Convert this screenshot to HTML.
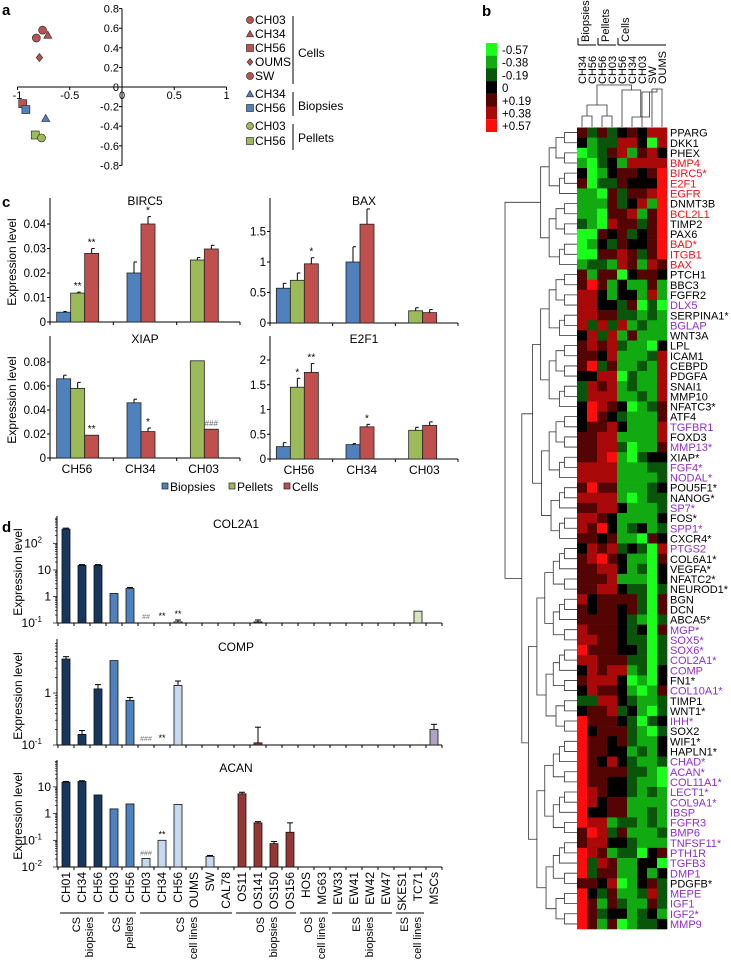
<!DOCTYPE html>
<html><head><meta charset="utf-8"><style>
html,body{margin:0;padding:0;background:#fff;}
svg{display:block;font-family:"Liberation Sans",Arial,sans-serif;}
</style></head><body>
<svg id="fig" width="731" height="960" viewBox="0 0 731 960" xmlns="http://www.w3.org/2000/svg"></svg>
<script>
// ---------- Panel a data ----------
const pcaLabels=["CH03","SW","CH34","OUMS","CH56","CH56","CH34","CH56","CH03"];
const pcaGroups=["cells","cells","cells","cells","cells","biopsies","biopsies","pellets","pellets"];
const pcaShapes=["circle","hex","tri","diamond","square","square","tri","square","circle"];
const pcaX=[-0.82,-0.76,-0.71,-0.79,-0.95,-0.92,-0.73,-0.83,-0.77];
const pcaY=[0.50,0.58,0.53,0.30,-0.17,-0.23,-0.32,-0.49,-0.52];
const pcaTicksX=[-1,-0.5,0,0.5,1];
const pcaTicksY=[0.8,0.6,0.4,0.2,0,-0.2,-0.4,-0.6,-0.8];

// ---------- Panel c data ----------
const cCategories=["CH56","CH34","CH03"];
const birc5Bio=[0.004,0.020,null], birc5Pel=[0.0118,null,0.0253], birc5Cell=[0.028,0.040,0.0298];
const birc5BioErr=[0.0003,0.0045,0], birc5PelErr=[0.0004,0,0.001], birc5CellErr=[0.002,0.003,0.0015];
const birc5Marks=[["","**","**"],["","","*"],["","",""]];
const baxBio=[0.57,1.0,null], baxPel=[0.70,null,0.20], baxCell=[0.97,1.62,0.17];
const baxBioErr=[0.08,0.25,0], baxPelErr=[0.12,0,0.05], baxCellErr=[0.1,0.25,0.05];
const baxMarks=[["","","*"],["","",""],["","",""]];
const xiapBio=[0.066,0.046,null], xiapPel=[0.058,null,0.081], xiapCell=[0.019,0.022,0.024];
const xiapBioErr=[0.003,0.003,0], xiapPelErr=[0.005,0,0], xiapCellErr=[0,0.003,0];
const xiapMarks=[["","","**"],["","","*"],["","","###"]];
const e2f1Bio=[0.25,0.29,null], e2f1Pel=[1.45,null,0.58], e2f1Cell=[1.75,0.65,0.68];
const e2f1BioErr=[0.08,0.02,0], e2f1PelErr=[0.18,0,0.06], e2f1CellErr=[0.18,0.05,0.07];
const e2f1Marks=[["","*","**"],["","","*"],["","",""]];
const birc5Ticks=[0,0.01,0.02,0.03,0.04], birc5TickLabels=["0","0.01","0.02","0.03","0.04"];
const baxTicks=[0,0.5,1,1.5], baxTickLabels=["0","0.5","1","1.5"];
const xiapTicks=[0,0.02,0.04,0.06,0.08], xiapTickLabels=["0","0.02","0.04","0.06","0.08"];
const e2f1Ticks=[0,0.5,1,1.5,2], e2f1TickLabels=["0","0.5","1","1.5","2"];

// ---------- Panel d data ----------
const dCategories=["CH01","CH34","CH56","CH03","CH56","CH03","CH34","CH56","OUMS","SW","CAL78","OS11","OS141","OS150","OS156","HOS","MG63","EW33","EW41","EW42","EW47","SKES1","TC71","MSCs"];
const dGroupNames=[["CS","biopsies"],["CS","pellets"],["CS","cell lines"],["OS","biopsies"],["OS","cell lines"],["ES","biopsies"],["ES","cell lines"]];
const dGroupStart=[0,3,5,11,15,17,21];
const dGroupEnd=[2,4,10,14,16,20,22];
const dColorKeys=["csb","csb","csb","csp","csp","csc","csc","csc","csc","csc","csc","osb","osb","osb","osb","osc","osc","esb","esb","esb","esb","esc","esc","msc"];
const col2a1Values=[350,15,15,1.3,2.0,null,null,0.11,null,null,null,null,0.11,null,null,null,null,null,null,null,null,null,0.28,null];
const col2a1Err=[30,1,1,0,0.2,0,0,0.02,0,0,0,0,0.02,0,0,0,0,0,0,0,0,0,0,0];
const col2a1Marks=["","","","","","##","**","**","","","","","","","","","","","","","","","",""];
const compValues=[4.5,0.16,1.2,4.2,0.72,null,null,1.4,null,null,null,null,0.11,null,null,null,null,null,null,null,null,null,null,0.2];
const compErr=[0.5,0.03,0.25,0,0.1,0,0,0.3,0,0,0,0,0.11,0,0,0,0,0,0,0,0,0,0,0.05];
const compMarks=["","","","","","###","**","","","","","","","","","","","","","","","","",""];
const acanValues=[15,16,5,1.5,2.3,0.021,0.1,2.2,null,0.025,null,5.5,0.45,0.075,0.2,null,null,null,null,null,null,null,null,null];
const acanErr=[1,1,0,0,0,0,0,0,0,0.002,0,0.8,0.05,0.015,0.25,0,0,0,0,0,0,0,0,0];
const acanMarks=["","","","","","###","**","","","","","","","","","","","","","","","","",""];

// ---------- Panel b data ----------
const hmColumns=["CH34","CH56","CH56","CH03","CH56","CH34","CH03","SW","OUMS"];
const hmGenes=["PPARG","DKK1","PHEX","BMP4","BIRC5*","E2F1","EGFR","DNMT3B","BCL2L1","TIMP2","PAX6","BAD*","ITGB1","BAX","PTCH1","BBC3","FGFR2","DLX5","SERPINA1*","BGLAP","WNT3A","LPL","ICAM1","CEBPD","PDGFA","SNAI1","MMP10","NFATC3*","ATF4","TGFBR1","FOXD3","MMP13*","XIAP*","FGF4*","NODAL*","POU5F1*","NANOG*","SP7*","FOS*","SPP1*","CXCR4*","PTGS2","COL6A1*","VEGFA*","NFATC2*","NEUROD1*","BGN","DCN","ABCA5*","MGP*","SOX5*","SOX6*","COL2A1*","COMP","FN1*","COL10A1*","TIMP1","WNT1*","IHH*","SOX2","WIF1*","HAPLN1*","CHAD*","ACAN*","COL11A1*","LECT1*","COL9A1*","IBSP","FGFR3","BMP6","TNFSF11*","PTH1R","TGFB3","DMP1","PDGFB*","MEPE","IGF1","IGF2*","MMP9"];
const hmGeneClass="kkkrrrrkrkkrrr"+"kkkpkpkkkkkkkkkpkp"+"kppkkpkpkpkkkkkkkpppppkp"+"kkpkkkp"+"ppppppppppp"+"kpppp";
// values coded 0..6 => -3..+3 (green..red)
const hmValues=["424234355","312255305","012451453","102315555","301344346","402243336","110424456","111423516","110445146","210544246","004342346","013243346","004454246","122154154","414403443","464131141","553133151","553324020","554422121","525251211","352514111","454521103","443511125","462411215","335502115","254512115","255511215","365430124","364321114","344531115","445511115","445520114","445610233","555511122","555511112","464411123","555510122","445531112","554311113","546312312","443411043","354523205","456431104","445531203","444511103","445532202","534444204","434434204","444432102","544432304","554432202","644433202","554442202","354551203","455530103","354431014","225532112","344523102","644432023","634442102","644342113","644331213","643532112","644442210","644332110","654332121","653441111","633441121","655122121","465241112","455332111","654122034","625411330","624411313","443501342","632411252","641421142","642331231","641401223"];

// ---------- helpers ----------
const NS="http://www.w3.org/2000/svg";
const svg=document.getElementById("fig");
function mk(tag,attrs,parent){const e=document.createElementNS(NS,tag);for(const k in attrs)e.setAttribute(k,attrs[k]);(parent||svg).appendChild(e);return e;}
function txt(s,x,y,size,anchor,parent,extra){const t=mk("text",Object.assign({x:x,y:y,"font-size":size,"text-anchor":anchor||"start",fill:"#000"},extra||{}),parent);t.textContent=s;return t;}
function line(x1,y1,x2,y2,parent,w,c){return mk("line",{x1:x1,y1:y1,x2:x2,y2:y2,stroke:c||"#000","stroke-width":w||1},parent);}

let L;
L=txt("a",2,15,15,"start",svg,{"font-weight":"bold"});


L=txt("b",482,16,15,"start",svg,{"font-weight":"bold"});


L=txt("c",2,207,15,"start",svg,{"font-weight":"bold"});


L=txt("d",2,532,15,"start",svg,{"font-weight":"bold"});



// ================= Panel a: PCA =================
const gA=mk("g",{});


const axX=v=>122+v*104.5, axY=v=>87-v*98;
line(axX(-1),axY(0),axX(1),axY(0),gA);
line(axX(0),axY(0.8),axX(0),axY(-0.8),gA);
pcaTicksX.forEach(v=>{line(axX(v),axY(0),axX(v),axY(0)+3,gA);const t=txt(String(v),axX(v),axY(0)+12,11,"middle",gA);});
pcaTicksY.forEach(v=>{line(axX(0)-3,axY(v),axX(0),axY(v),gA);const t=txt(String(v),axX(0)-3,axY(v)+4,11,"end",gA);});
const grpFill={cells:"#c0504d",biopsies:"#4f81bd",pellets:"#9bbb59"};
function shape(kind,cx,cy,fill,parent,s){s=s||4;let e;
 if(kind==="circle"||kind==="hex")e=mk("circle",{cx:cx,cy:cy,r:s,fill:fill,stroke:"#333","stroke-width":0.7},parent);
 else if(kind==="square")e=mk("rect",{x:cx-s,y:cy-s,width:2*s,height:2*s,fill:fill,stroke:"#333","stroke-width":0.7},parent);
 else if(kind==="tri")e=mk("polygon",{points:`${cx},${cy-s} ${cx+s},${cy+s*0.8} ${cx-s},${cy+s*0.8}`,fill:fill,stroke:"#333","stroke-width":0.7},parent);
 else e=mk("polygon",{points:`${cx},${cy-s} ${cx+s*0.8},${cy} ${cx},${cy+s} ${cx-s*0.8},${cy}`,fill:fill,stroke:"#333","stroke-width":0.7},parent);
 return e;}
pcaX.forEach((v,i)=>{const p=shape(pcaShapes[i],axX(v),axY(pcaY[i]),grpFill[pcaGroups[i]],gA);
 
 });
const gAL=mk("g",{});


const legA=[["circle","cells","CH03",24],["tri","cells","CH34",38],["square","cells","CH56",52],["diamond","cells","OUMS",66],["hex","cells","SW",80],["tri","biopsies","CH34",98],["square","biopsies","CH56",112],["circle","pellets","CH03",130],["square","pellets","CH56",145]];
legA.forEach(r=>{shape(r[0],250,r[3]-4,grpFill[r[1]],gAL,3.5);const t=txt(r[2],255,r[3],12,"start",gAL);});
line(293,16,293,84,gAL);line(293,92,293,116,gAL);line(293,124,293,150,gAL);
txt("Cells",298,57,12,"start",gAL);txt("Biopsies",298,110,12,"start",gAL);txt("Pellets",298,142,12,"start",gAL);

// ================= Panel c: bar charts =================
const cColors=["#4f81bd","#9bbb59","#c0504d"];
function barChart(name,title,cfg,series,errs,marks,ticks,tickLabels){
 const g=mk("g",{});
 
 
 const yv=v=>cfg.base-v*cfg.ppu;
 line(cfg.x0,cfg.top,cfg.x0,cfg.base,g);line(cfg.x0,cfg.base,cfg.x1,cfg.base,g);
 ticks.forEach((v,i)=>{line(cfg.x0-3,yv(v),cfg.x0,yv(v),g);const t=txt(tickLabels[i],cfg.x0-4,yv(v)+4,11.5,"end",g);});
 const gw=(cfg.x1-cfg.x0)/3;
 for(let k=0;k<=3;k++)line(cfg.x0+gw*k,cfg.base,cfg.x0+gw*k,cfg.base+3,g);
 const tt=txt(title,cfg.x0+gw*1.5,cfg.top+7,12,"middle",g);
 
 
 for(let c=0;c<3;c++){
  const present=[0,1,2].filter(s=>series[s][c]!==null);
  const bw=14, start=cfg.x0+gw*c+gw/2-present.length*bw/2-4;
  present.forEach((s,j)=>{const v=series[s][c],x=start+j*bw;
   const r=mk("rect",{x:x,y:yv(v),width:bw,height:cfg.base-yv(v),fill:cColors[s],stroke:"#222","stroke-width":0.8},g);
   
   
   const e=errs[s][c];if(e>0){line(x+bw/2,yv(v),x+bw/2,yv(v+e),g,1);line(x+bw/2,yv(v+e),x+bw/2+3,yv(v+e),g,1);}
   const m=marks[c][s];if(m){const mt=txt(m,x+bw/2,yv(v+e)-3,m.startsWith("#")?8:10,"middle",g,m.startsWith("#")?{fill:"#666"}:{});}
  });
 }
 return g;}
barChart("birc5-chart","BIRC5",{x0:50,x1:240,base:322,ppu:2450,top:198},[birc5Bio,birc5Pel,birc5Cell],[birc5BioErr,birc5PelErr,birc5CellErr],birc5Marks,birc5Ticks,birc5TickLabels);
barChart("bax-chart","BAX",{x0:270,x1:458,base:323,ppu:61,top:198},[baxBio,baxPel,baxCell],[baxBioErr,baxPelErr,baxCellErr],baxMarks,baxTicks,baxTickLabels);
barChart("xiap-chart","XIAP",{x0:50,x1:240,base:458,ppu:1200,top:336},[xiapBio,xiapPel,xiapCell],[xiapBioErr,xiapPelErr,xiapCellErr],xiapMarks,xiapTicks,xiapTickLabels);
barChart("e2f1-chart","E2F1",{x0:270,x1:458,base:459,ppu:49.5,top:336},[e2f1Bio,e2f1Pel,e2f1Cell],[e2f1BioErr,e2f1PelErr,e2f1CellErr],e2f1Marks,e2f1Ticks,e2f1TickLabels);
cCategories.forEach((c,i)=>{let t=txt(c,50+63.3*i+27,473,12,"middle");
 t=txt(c,270+62.7*i+29,474,12,"middle");});
const yl1=txt("Expression level",0,0,12,"middle",svg,{transform:"translate(16,262) rotate(-90)"});


const yl2=txt("Expression level",0,0,12,"middle",svg,{transform:"translate(16,400) rotate(-90)"});


const gCL=mk("g",{});


[["Biopsies",162],["Pellets",229],["Cells",284]].forEach((e,i)=>{mk("rect",{x:e[1],y:483,width:6,height:6,fill:cColors[i],stroke:"#222","stroke-width":0.7},gCL);const t=txt(e[0],e[1]+8,491,12,"start",gCL);});

// ================= Panel d: log bar charts =================
const dFill={csb:"#17375e",csp:"#4f81bd",csc:"#c6d9f1",osb:"#953735",osc:"#d99694",esb:"#c3d69b",esc:"#d7e4bd",msc:"#b3a2c7"};
const dX0=58, dStep=16;
function logChart(name,title,cfg,values,errs,marks,tickExps){
 const g=mk("g",{});
 
 
 const yv=v=>cfg.base-(Math.log10(v)-cfg.minExp)*cfg.ppd;
 line(dX0-1,cfg.top,dX0-1,cfg.base,g);line(dX0-1,cfg.base,dX0+dStep*24,cfg.base,g);
 for(let i=0;i<=24;i++)line(dX0+dStep*i,cfg.base,dX0+dStep*i,cfg.base+3,g);
 for(let e=cfg.minExp;e<cfg.maxExp;e++)for(let m=1;m<10;m++){const y=yv(m*Math.pow(10,e));if(y>=cfg.top)line(dX0-(m===1?5:3),y,dX0-1,y,g,0.7);}
 tickExps.forEach(e=>{const y=yv(Math.pow(10,e));let t;
  if(e===0)t=txt("1",dX0-7,y+4,12,"end",g);else if(e===1)t=txt("10",dX0-7,y+4,12,"end",g);
  else{t=txt("",dX0-16,y+4,12,"end",g);const a=mk("tspan",{},t);a.textContent="10";const s=mk("tspan",{"font-size":8,dy:-5},t);s.textContent=String(e);}
  });
 const tt=txt(title,236,cfg.top+12,12,"middle",g);
 
 
 values.forEach((v,i)=>{const x=dX0+dStep*i+4;
  if(v!==null){const r=mk("rect",{x:x,y:yv(v),width:8,height:cfg.base-yv(v),fill:dFill[dColorKeys[i]],stroke:"#111","stroke-width":0.8},g);
   
   
   if(errs[i]>0){const ye=yv(v+errs[i]);line(x+4,yv(v),x+4,ye,g);line(x+1,ye,x+7,ye,g);}}
  if(marks[i]){const top=v!==null?yv(v+errs[i])-3:cfg.base-4;const m=txt(marks[i],x+4,top,marks[i].startsWith("#")?7:9,"middle",g,marks[i].startsWith("#")?{fill:"#777"}:{});}
 });
 return g;}
logChart("col2a1-chart","COL2A1",{base:623,minExp:-1,maxExp:3,ppd:26.5,top:516},col2a1Values,col2a1Err,col2a1Marks,[-1,0,1,2]);
logChart("comp-chart","COMP",{base:745,minExp:-1,maxExp:1,ppd:52,top:639},compValues,compErr,compMarks,[-1,0]);
logChart("acan-chart","ACAN",{base:867,minExp:-2,maxExp:2,ppd:26.7,top:760},acanValues,acanErr,acanMarks,[-2,-1,0,1]);
[572,696,816].forEach(p=>{const t=txt("Expression level",0,0,12,"middle",svg,{transform:`translate(22,${p}) rotate(-90)`});});
dCategories.forEach((c,i)=>{const cx=dX0+dStep*i+8;const t=txt(c,0,0,12,"end",svg,{transform:`translate(${cx+4},872) rotate(-90)`});
 
 });
dGroupNames.forEach((n,k)=>{const xa=dX0+dStep*dGroupStart[k]+2, xb=dX0+dStep*(dGroupEnd[k]+1)-2;line(xa,913,xb,913);
 const cx=(xa+xb)/2;const t1=txt(n[0],0,0,11,"end",svg,{transform:`translate(${cx-2},917) rotate(-90)`});
 
 
 const t2=txt(n[1],0,0,11,"end",svg,{transform:`translate(${cx+11},917) rotate(-90)`});
 
 });

// ================= Panel b: heatmap =================
const gB=mk("g",{});


const hx0=577, cw=10, hy0=127.5, rh=(929-127.5)/hmGenes.length;
function hmColor(code){const v=code-3;if(v<0){const g=Math.round(255*(-v)/3);return `rgb(${Math.round(g*0.1)},${g},${Math.round(g*0.1)})`;}const r=Math.round(255*v/3);return `rgb(${r},${Math.round(r*0.05)},${Math.round(r*0.05)})`;}
hmValues.forEach((row,r)=>{for(let c=0;c<hmColumns.length;c++){const cell=mk("rect",{x:hx0+c*cw,y:hy0+r*rh,width:cw+0.3,height:rh+0.3,fill:hmColor(+row[c])},gB);
 
 }});
const geneCol={k:"#000",r:"#e8141b",p:"#8e30c7"};
hmGenes.forEach((g,r)=>{const t=txt(g,hx0+9*cw+3,hy0+r*rh+rh-1,11,"start",gB,{fill:geneCol[hmGeneClass[r]]});});
hmColumns.forEach((c,i)=>{const t=txt(c,0,0,11,"start",gB,{transform:`translate(${hx0+i*cw+cw/2+4},84) rotate(-90)`});});
[["Biopsies",hx0+1,hx0+19],["Pellets",hx0+21,hx0+39],["Cells",hx0+41,hx0+89]].forEach(e=>{line(e[1],45,e[2],45,gB);line(e[1],45,e[1],38,gB);const t=txt(e[0],0,0,11,"start",gB,{transform:`translate(${e[1]+11},42) rotate(-90)`});});
const hmKeyLabels=["-0.57","-0.38","-0.19","0","+0.19","+0.38","+0.57"];
const hmKeyCodes=[0,1,2,3,4,5,6];
hmKeyCodes.forEach((k,i)=>{const r=mk("rect",{x:486,y:43+i*12.7,width:11,height:12.8,fill:hmColor(k)},gB);
 const t=txt(hmKeyLabels[i],502,54+i*12.7,11.5,"start",gB);});
const gD=mk("g",{});


function dend(a,b,depth){
 if(a===b)return [hx0,hy0+a*rh+rh/2];
 let m;
 if(depth===0)m=13;else if(depth===1&&a===14)m=40;else m=Math.floor((a+b)/2);
 const Lp=dend(a,m,depth+1),R=dend(m+1,b,depth+1);
 const n=b-a+1;let x=hx0-4-Math.log2(n)*8.5; if(depth===0)x=505;
 x=Math.min(x,Math.min(Lp[0],R[0])-3);
 mk("path",{d:`M${Lp[0]},${Lp[1]}H${x}V${R[1]}H${R[0]}`,fill:"none",stroke:"#333","stroke-width":0.8},gD);
 return [x,(Lp[1]+R[1])/2];}
dend(0,hmGenes.length-1,0);
const gCD=mk("g",{});


const cx=i=>hx0+i*cw+cw/2;
function cl(x1,y1,x2,y2,h){mk("path",{d:`M${x1},${y1}V${h}H${x2}V${y2}`,fill:"none",stroke:"#333","stroke-width":0.8},gCD);}
cl(cx(0),127,cx(1),127,116);cl(cx(2),127,cx(3),127,116);
cl((cx(0)+cx(1))/2,116,(cx(2)+cx(3))/2,116,105);
cl(cx(7),127,cx(8),127,89);cl(cx(6),127,(cx(7)+cx(8))/2,89,92);
cl(cx(5),127,(cx(6)+(cx(7)+cx(8))/2)/2,92,117);
cl(cx(4),127,(cx(5)+(cx(6)+(cx(7)+cx(8))/2)/2)/2,117,90);
cl((cx(0)+cx(1)+cx(2)+cx(3))/4,105,(cx(4)+(cx(5)+(cx(6)+(cx(7)+cx(8))/2)/2)/2)/2,90,85);
</script>
</body></html>
